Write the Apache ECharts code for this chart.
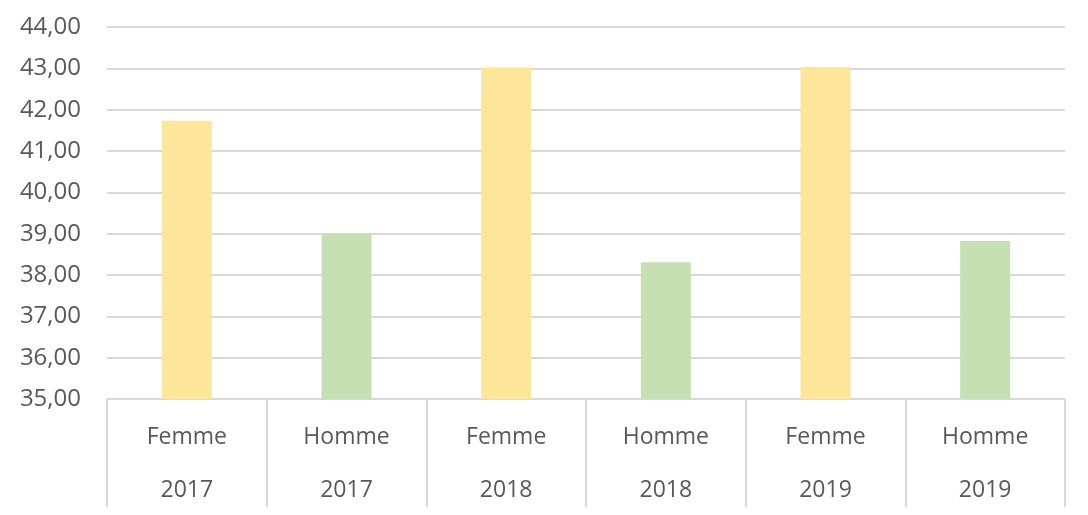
<!DOCTYPE html>
<html>
<head>
<meta charset="utf-8">
<script src="https://cdn.jsdelivr.net/npm/echarts@6/dist/echarts.min.js"></script>
<style>html,body{margin:0;padding:0;background:#fff}#c{width:1088px;height:515px}</style>
</head>
<body>
<div id="c"></div>
<script>
const genders = ['Femme', 'Homme', 'Femme', 'Homme', 'Femme', 'Homme'];
const years = ['2017', '2017', '2018', '2018', '2019', '2019'];
const values = [41.73, 39.00, 43.02, 38.31, 43.03, 38.82];
const yTicks = { min: 35, max: 44, interval: 1 };
const colorByGender = { Femme: '#FDE59A', Homme: '#C6E0B4' };

const categories = genders.map((g, i) => g + '|' + years[i]);
const chart = echarts.init(document.getElementById('c'));
chart.setOption({
  animation: false,
  grid: { left: 107, right: 23, top: 27, bottom: 116 },
  xAxis: {
    type: 'category',
    data: categories,
    axisLine: { lineStyle: { color: '#d9d9d9', width: 2 } },
    axisTick: { show: true, length: 108, lineStyle: { color: '#d9d9d9', width: 2 } },
    axisLabel: {
      margin: 12,
      formatter: v => { const p = v.split('|'); return '{a|' + p[0] + '}\n{a|' + p[1] + '}'; },
      rich: { a: { fontFamily: 'Open Sans', fontSize: 23, color: '#595959', lineHeight: 53, align: 'center' } }
    }
  },
  yAxis: {
    type: 'value',
    min: yTicks.min, max: yTicks.max, interval: yTicks.interval,
    axisLine: { show: false },
    axisTick: { show: false },
    splitLine: { lineStyle: { color: '#d9d9d9', width: 2 } },
    axisLabel: {
      margin: 26,
      fontFamily: 'Open Sans', fontSize: 24, color: '#595959',
      formatter: v => v.toFixed(2).replace('.', ',')
    }
  },
  series: [{
    type: 'bar',
    barWidth: 50,
    data: values.map((v, i) => ({ value: v, itemStyle: { color: colorByGender[genders[i]] } }))
  }]
});
</script>
</body>
</html>
